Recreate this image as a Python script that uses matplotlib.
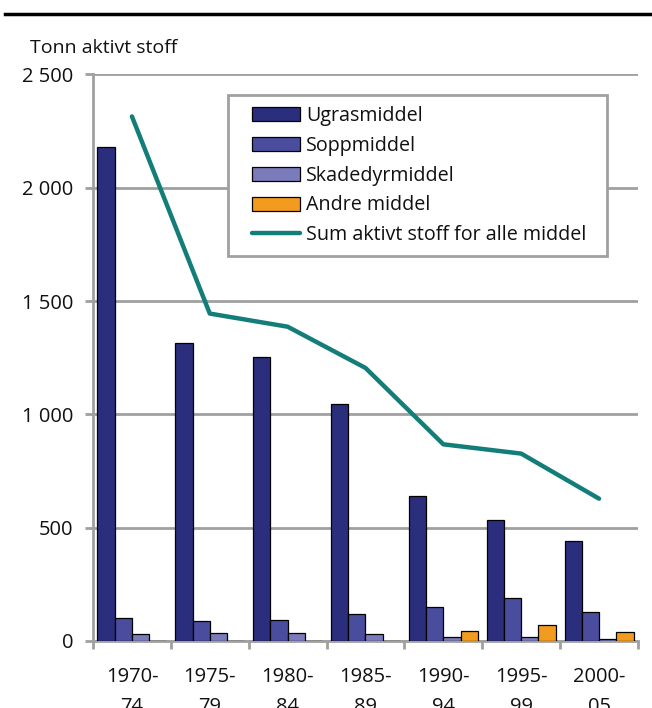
import matplotlib
matplotlib.use("Agg")
import matplotlib.pyplot as plt
import numpy as np
from matplotlib.lines import Line2D
from matplotlib.patches import Patch
from matplotlib.legend_handler import HandlerPatch, HandlerLine2D

plt.rcParams['font.family'] = ['Open Sans', 'DejaVu Sans']

categories = ["1970-\n74", "1975-\n79", "1980-\n84", "1985-\n89", "1990-\n94", "1995-\n99", "2000-\n05"]
ugras = [2180, 1315, 1255, 1048, 640, 533, 442]
sopp = [100, 88, 93, 120, 150, 188, 128]
skade = [32, 37, 34, 32, 16, 16, 8]
andre = [0, 0, 0, 0, 46, 72, 40]
total = [2315, 1445, 1387, 1205, 868, 827, 628]
yticks = [0, 500, 1000, 1500, 2000, 2500]
ytick_labels = ["0", "500", "1 000", "1 500", "2 000", "2 500"]

series = [("Ugrasmiddel", ugras, "#2B2E7C"),
          ("Soppmiddel", sopp, "#4A4C9E"),
          ("Skadedyrmiddel", skade, "#7B7BBB"),
          ("Andre middel", andre, "#F39B1F")]
line_label = "Sum aktivt stoff for alle middel"
line_color = "#137E79"
grid_color = "#A0A0A0"

W, H = 652, 708
fig = plt.figure(figsize=(W / 100, H / 100), dpi=100)
ax_l, ax_r, ax_t, ax_b = 93, 638, 74.5, 641
ax = fig.add_axes([ax_l / W, 1 - ax_b / H, (ax_r - ax_l) / W, (ax_b - ax_t) / H])

x = np.arange(len(categories))
w = 0.222
handles = []
for i, (name, vals, col) in enumerate(series):
    ax.bar(x + (i - 1.5) * w, vals, width=w, color=col, edgecolor="black",
           linewidth=0.9, zorder=3)
    handles.append(Patch(facecolor=col, edgecolor="black", linewidth=0.9, label=name))
ln, = ax.plot(x, total, color=line_color, lw=3.2, zorder=4, solid_capstyle="round",
              label=line_label)

ax.set_xlim(-0.5, len(categories) - 0.5)
ax.set_ylim(0, 2500)
ax.set_yticks(yticks)
ax.set_yticklabels(ytick_labels)
ax.yaxis.grid(True, color=grid_color, lw=2, zorder=0)
ax.set_axisbelow(True)

for s in ["top", "right"]:
    ax.spines[s].set_visible(False)
for s in ["left", "bottom"]:
    ax.spines[s].set_color(grid_color)
    ax.spines[s].set_linewidth(2)

ax.set_xticks(x)
ax.set_xticklabels(categories, linespacing=1.7)
ax.set_xticks(np.arange(-0.5, len(categories)), minor=True)
ax.tick_params(axis="x", which="major", length=0, pad=18.5, labelsize=14.5, colors="#111111")
ax.tick_params(axis="x", which="minor", length=6, width=2, color=grid_color, direction="out")
ax.tick_params(axis="y", length=6, width=2, color=grid_color, pad=8, labelsize=14.5, labelcolor="#111111")

fig.text(30 / W, 1 - 53 / H, "Tonn aktivt stoff", fontsize=14, va="baseline", ha="left", color="#111111")

# top rule
fig.add_artist(Line2D([5 / W, 1], [1 - 14 / H, 1 - 14 / H], color="black", lw=2.5, transform=fig.transFigure))

# legend box in pixel terms
lg_l, lg_r, lg_t, lg_b = 228, 607, 95, 243
fs = 14.2
fpx = fs * 100 / 72
ah = ax_b - ax_t
aw = ax_r - ax_l
bp = 0.55
xpad = (252 - lg_l - bp * fpx) / fpx
leg = ax.legend(handles=handles + [ln], loc="upper left", mode="expand",
                bbox_to_anchor=((lg_l - ax_l) / aw, (ax_b - lg_b) / ah, (lg_r - lg_l) / aw, (lg_b - lg_t) / ah),
                fontsize=fs, frameon=True, fancybox=False, framealpha=1,
                edgecolor="#A0A0A0", handlelength=(300 - 252) / fpx + xpad, handleheight=0.72,
                handletextpad=0.3, labelspacing=0.5, borderpad=bp, borderaxespad=0,
                handler_map={Patch: HandlerPatch(xpad=xpad), Line2D: HandlerLine2D(xpad=xpad)})
leg.get_frame().set_linewidth(2)
for t in leg.get_texts():
    t.set_color("#111111")

fig.savefig("out.png", dpi=100)
